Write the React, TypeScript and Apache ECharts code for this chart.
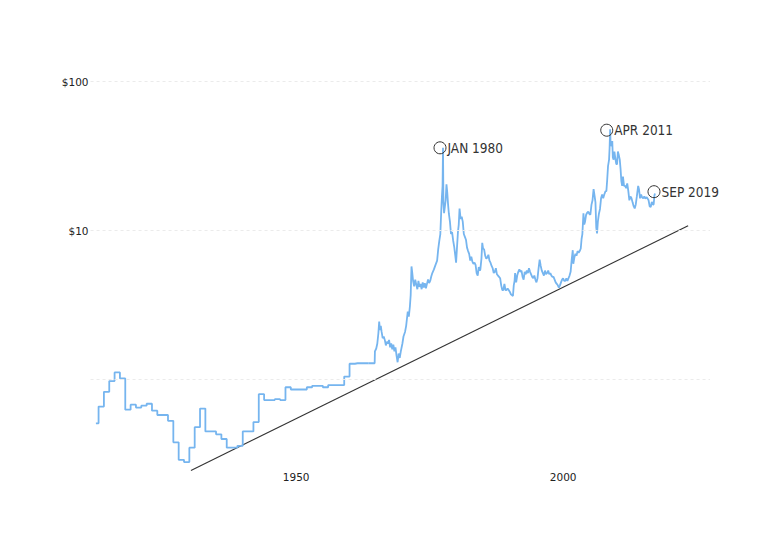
import React, { useEffect, useRef } from "react";
import * as echarts from "echarts";

// Annual prices (USD/oz), 1915-1966
const annualYears = [
  1915, 1916, 1917, 1918, 1919, 1920, 1921, 1922, 1923, 1924, 1925, 1926, 1927,
  1928, 1929, 1930, 1931, 1932, 1933, 1934, 1935, 1936, 1937, 1938, 1939, 1940,
  1941, 1942, 1943, 1944, 1945, 1946, 1947, 1948, 1949, 1950, 1951, 1952, 1953,
  1954, 1955, 1956, 1957, 1958, 1959, 1960, 1961, 1962, 1963, 1964, 1965, 1966,
];
const annualPrices = [
  0.51, 0.66, 0.83, 0.98, 1.12, 1.02, 0.63, 0.68, 0.65, 0.67, 0.69, 0.62, 0.58,
  0.58, 0.53, 0.38, 0.29, 0.28, 0.35, 0.48, 0.64, 0.45, 0.45, 0.43, 0.4, 0.35,
  0.35, 0.36, 0.45, 0.45, 0.52, 0.8, 0.73, 0.73, 0.74, 0.73, 0.89, 0.86, 0.86,
  0.86, 0.89, 0.91, 0.91, 0.89, 0.92, 0.92, 0.92, 1.05, 1.28, 1.29, 1.29, 1.29,
];

// Monthly-ish prices (decimal year, USD/oz), 1966-2019
const monthlyYears = [
  1966.0, 1967.2, 1967.25, 1967.5, 1967.7, 1967.9, 1968.05, 1968.2, 1968.35, 1968.5, 1968.7, 1968.9,
  1969.1, 1969.3, 1969.5, 1969.7, 1969.9, 1970.1, 1970.3, 1970.5, 1970.7, 1970.9,
  1971.1, 1971.3, 1971.5, 1971.7, 1971.9, 1972.1, 1972.4, 1972.6, 1972.9,
  1973.1, 1973.4, 1973.6, 1973.8, 1973.95, 1974.1, 1974.25, 1974.4, 1974.6, 1974.8,
  1975.0, 1975.2, 1975.4, 1975.6, 1975.8, 1976.0, 1976.2, 1976.4, 1976.6, 1976.8,
  1977.0, 1977.2, 1977.4, 1977.6, 1977.8, 1978.0, 1978.3, 1978.6, 1978.9,
  1979.1, 1979.3, 1979.5, 1979.65, 1979.8, 1979.92, 1980.0, 1980.08, 1980.2, 1980.35, 1980.5, 1980.65, 1980.8, 1980.95,
  1981.1, 1981.3, 1981.5, 1981.7, 1981.9, 1982.1, 1982.3, 1982.45, 1982.6, 1982.8, 1982.95,
  1983.1, 1983.3, 1983.5, 1983.7, 1983.9, 1984.1, 1984.3, 1984.5, 1984.7, 1984.9,
  1985.1, 1985.3, 1985.5, 1985.7, 1985.9, 1986.1, 1986.3, 1986.5, 1986.7, 1986.9,
  1987.0, 1987.2, 1987.35, 1987.5, 1987.7, 1987.9, 1988.1, 1988.3, 1988.5, 1988.7, 1988.9,
  1989.1, 1989.3, 1989.5, 1989.7, 1989.9, 1990.1, 1990.3, 1990.5, 1990.7, 1990.9,
  1991.1, 1991.3, 1991.5, 1991.7, 1991.9, 1992.1, 1992.3, 1992.5, 1992.7, 1992.9,
  1993.1, 1993.25, 1993.4, 1993.5, 1993.7, 1993.9, 1994.1, 1994.3, 1994.5, 1994.7, 1994.9,
  1995.1, 1995.3, 1995.5, 1995.7, 1995.9, 1996.1, 1996.3, 1996.5, 1996.7, 1996.9,
  1997.1, 1997.3, 1997.5, 1997.7, 1997.9, 1998.1, 1998.3, 1998.5, 1998.7, 1998.9,
  1999.1, 1999.3, 1999.5, 1999.7, 1999.9, 2000.1, 2000.3, 2000.5, 2000.7, 2000.9,
  2001.1, 2001.3, 2001.5, 2001.7, 2001.9, 2002.1, 2002.3, 2002.5, 2002.7, 2002.9,
  2003.1, 2003.3, 2003.5, 2003.7, 2003.9, 2004.1, 2004.3, 2004.4, 2004.6, 2004.8,
  2005.0, 2005.2, 2005.4, 2005.6, 2005.8, 2005.95, 2006.1, 2006.3, 2006.45, 2006.6, 2006.8,
  2007.0, 2007.2, 2007.4, 2007.6, 2007.8, 2008.0, 2008.2, 2008.4, 2008.55, 2008.7, 2008.85,
  2009.0, 2009.2, 2009.4, 2009.6, 2009.8, 2010.0, 2010.2, 2010.4, 2010.6, 2010.75, 2010.9,
  2011.1, 2011.2, 2011.3, 2011.4, 2011.55, 2011.7, 2011.8, 2011.95,
  2012.1, 2012.25, 2012.45, 2012.6, 2012.75, 2012.9, 2013.1, 2013.25, 2013.4, 2013.55, 2013.7, 2013.9,
  2014.1, 2014.3, 2014.5, 2014.7, 2014.9, 2015.1, 2015.3, 2015.5, 2015.7, 2015.9,
  2016.1, 2016.3, 2016.55, 2016.7, 2016.9, 2017.1, 2017.3, 2017.5, 2017.7, 2017.9,
  2018.1, 2018.3, 2018.5, 2018.7, 2018.9, 2019.1, 2019.3, 2019.45, 2019.6, 2019.7,
];
const monthlyPrices = [
  1.29, 1.29, 1.55, 1.62, 1.75, 2.05, 2.46, 2.15, 2.3, 2.1, 1.9, 1.95,
  1.85, 1.7, 1.8, 1.75, 1.85, 1.65, 1.75, 1.6, 1.72, 1.55,
  1.65, 1.45, 1.31, 1.5, 1.4, 1.55, 1.75, 1.95, 2.1,
  2.3, 2.87, 2.65, 3.1, 3.7, 5.76, 5.2, 4.6, 4.24, 4.7,
  4.35, 4.05, 4.6, 4.2, 4.4, 4.05, 4.5, 4.15, 4.45, 4.1,
  4.4, 4.7, 4.45, 4.6, 4.93, 5.2, 5.5, 5.9, 6.3,
  7.5, 8.5, 9.5, 13, 17, 20, 36, 15.5, 13.1, 14.5, 16, 20.5, 18, 15,
  13, 11.5, 9.5, 9.8, 8.6, 7.8, 6.8, 6.1, 7.5, 9.8, 11,
  14.1, 12, 12.4, 11.5, 9.5, 9.1, 8.7, 7.7, 7.3, 7.0,
  6.3, 6.7, 6.2, 6.0, 6.1, 5.9, 5.2, 5.0, 5.7, 5.4,
  5.5, 6.5, 8.3, 7.6, 7.5, 6.8, 6.5, 6.6, 6.9, 6.3, 6.1,
  5.8, 5.6, 5.2, 5.3, 5.6, 5.1, 5.0, 4.9, 4.8, 4.3,
  4.0, 4.0, 4.4, 4.0, 4.0, 4.1, 4.0, 3.9, 3.75, 3.7,
  3.65, 4.3, 4.6, 5.2, 4.5, 5.0, 5.3, 5.5, 5.3, 5.4, 4.9,
  4.7, 5.3, 5.1, 5.4, 5.2, 5.6, 5.3, 5.1, 4.9, 4.8,
  5.0, 4.7, 4.5, 4.8, 5.6, 6.4, 5.8, 5.4, 5.2, 5.0,
  5.4, 5.1, 5.2, 5.4, 5.1, 5.2, 5.0, 4.9, 4.9, 4.7,
  4.5, 4.4, 4.3, 4.15, 4.3, 4.5, 4.7, 4.8, 4.6, 4.6,
  4.8, 4.6, 4.8, 5.0, 5.3, 6.4, 7.4, 6.0, 6.6, 7.0,
  6.8, 7.3, 7.1, 7.3, 7.6, 8.8, 9.5, 13.1, 11.0, 11.5, 12.8,
  13.2, 13.4, 13.0, 12.8, 14.9, 16.0, 19.0, 17.0, 15.5, 10.5, 9.6,
  11.5, 13.0, 14.0, 16.5, 17.5, 16.5, 17.5, 18.3, 18.5, 22, 27,
  30, 36, 48, 37, 38, 40, 31, 30,
  34, 31, 28, 28, 34, 32.5, 30, 26, 21.5, 20, 23.1, 20,
  20, 19.3, 20.8, 18.5, 16, 17, 16.5, 15.5, 14.6, 14.1,
  15, 17, 20, 19, 16.5, 17.5, 16.7, 16.5, 17, 16.4,
  16.8, 16.5, 16.0, 14.6, 14.4, 15.6, 15.0, 15.0, 17.3, 17.8,
];

// Hand-drawn trend line
const trendYears = [1932.8, 2025.9];
const trendPrices = [0.246, 10.8];

// Handwritten notes
const noteLabels = ["JAN 1980", "APR 2011", "SEP 2019"];
const noteYears = [1980.0, 2011.3, 2019.7];
const notePrices = [36, 48, 17.8];
const noteOffsets = [[-3, 0], [-3.4, 1], [-1, -1.7]];

// Axis
const gridValues = [1, 10, 100];
const xTickValues = [1950, 2000];

const BLUE = "#76b5ef";

export default function App() {
  const ref = useRef<HTMLDivElement>(null);
  useEffect(() => {
    if (!ref.current) return;
    const chart = echarts.init(ref.current, undefined, { renderer: "svg" });
    const annual = annualYears.map((y, i) => [y, annualPrices[i]]);
    const monthly = monthlyYears.map((y, i) => [y, monthlyPrices[i]]);
    const trend = trendYears.map((y, i) => [y, trendPrices[i]]);
    const axisFont = "'DejaVu Sans', Verdana, sans-serif";
    const handFont = "'DejaVu Sans Condensed', 'Liberation Sans Narrow', sans-serif";
    chart.setOption({
      animation: false,
      backgroundColor: "#ffffff",
      grid: { left: 90.56, right: 58, top: 36.85, bottom: 91.1, containLabel: false },
      xAxis: {
        type: "value",
        min: 1914,
        max: 2030,
        axisLine: { show: false },
        axisTick: { show: false },
        splitLine: { show: false },
        axisLabel: {
          customValues: xTickValues,
          formatter: (v: number) => String(Math.round(v)),
          align: "left",
          color: "#222",
          fontSize: 10.5,
          fontFamily: axisFont,
          margin: 5,
        },
      },
      yAxis: {
        type: "log",
        logBase: 10,
        min: 0.26,
        max: 200,
        axisLine: { show: false },
        axisTick: { show: false },
        splitLine: { show: false },
        axisLabel: {
          formatter: (v: number) =>
            Math.abs(v - 10) < 0.01 ? "$10" : Math.abs(v - 100) < 0.1 ? "$100" : "",
          color: "#222",
          fontSize: 10.5,
          fontFamily: axisFont,
          margin: 2,
        },
      },
      series: [
        {
          type: "line",
          data: trend,
          clip: false,
          showSymbol: false,
          silent: true,
          lineStyle: { color: "#333", width: 1.1 },
          markLine: {
            silent: true,
            symbol: ["none", "none"],
            label: { show: false },
            lineStyle: { color: "#ebebeb", type: [3, 3], width: 1 },
            data: gridValues.map((v) => ({ yAxis: v })),
          },
          z: 1,
        },
        {
          type: "line",
          data: annual,
          step: "middle",
          showSymbol: false,
          lineStyle: { color: BLUE, width: 1.8 },
          z: 2,
        },
        {
          type: "line",
          data: monthly,
          showSymbol: false,
          lineStyle: { color: BLUE, width: 1.8 },
          z: 2,
          markPoint: {
            silent: true,
            symbol: "circle",
            symbolSize: 12,
            itemStyle: { color: "rgba(0,0,0,0)", borderColor: "#333", borderWidth: 1 },
            label: {
              show: true,
              position: "right",
              distance: 1,
              formatter: "{b}",
              color: "#333",
              fontSize: 13.5,
              fontFamily: handFont,
            },
            data: noteLabels.map((n, i) => ({
              name: n,
              coord: [noteYears[i], notePrices[i]],
              symbolOffset: noteOffsets[i],
            })),
          },
        },
      ],
    });
    return () => chart.dispose();
  }, []);
  return (
    <div
      ref={ref}
      style={{ position: "fixed", left: 0, top: 0, width: 768, height: 558, background: "#fff" }}
    />
  );
}
